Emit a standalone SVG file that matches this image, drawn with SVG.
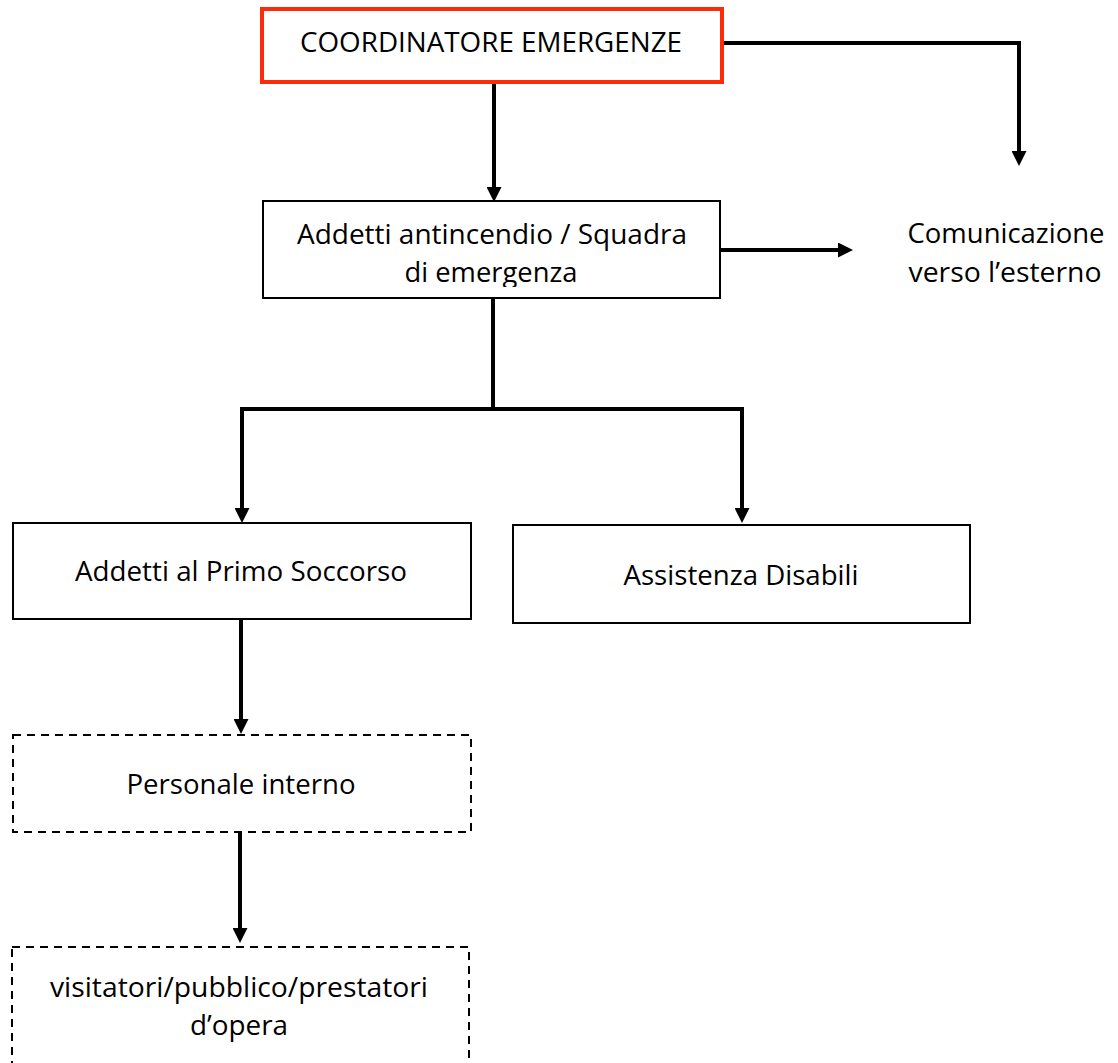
<svg xmlns="http://www.w3.org/2000/svg" width="1118" height="1063" viewBox="0 0 1118 1063">
<style>
  .box{fill:#fff;stroke:#000;stroke-width:2}
  .red{fill:#fff;stroke:#ff2a0a;stroke-width:4}
  .dash{fill:#fff;stroke:#000;stroke-width:2;stroke-dasharray:8 6}
  .t{font-family:"Open Sans","Noto Sans","Liberation Sans",sans-serif;font-size:28px;fill:#000;text-anchor:middle}
  .c{fill:none;stroke:#000;stroke-width:4;stroke-linejoin:miter;stroke-linecap:butt}
</style>
<defs>
  <marker id="ah" markerUnits="userSpaceOnUse" viewBox="0 0 15 15" refX="0" refY="7.5" markerWidth="15" markerHeight="15" orient="auto">
    <path d="M0,0 L15,7.5 L0,15 Z" fill="#000"/>
  </marker>
  <clipPath id="clip2"><rect x="263" y="201" width="457" height="86"/></clipPath>
</defs>
<rect width="1118" height="1063" fill="#fff"/>
<g id="connectors">
  <path class="c" d="M494 82 V187" marker-end="url(#ah)"/>
  <path class="c" d="M722 43 H1019 V151" marker-end="url(#ah)"/>
  <path class="c" d="M720 250 H838" marker-end="url(#ah)"/>
  <path class="c" d="M493 298 V409"/>
  <path class="c" d="M242 508 V409 H742 V508"/>
  <path class="c" d="M242 500 V508" marker-end="url(#ah)"/>
  <path class="c" d="M742 500 V508" marker-end="url(#ah)"/>
  <path class="c" d="M241 619 V719" marker-end="url(#ah)"/>
  <path class="c" d="M240 832 V928" marker-end="url(#ah)"/>
</g>
<g id="coordinatore">
  <rect class="red" x="262" y="9" width="460" height="73"/>
  <text class="t" x="491" y="52" textLength="382" lengthAdjust="spacingAndGlyphs">COORDINATORE EMERGENZE</text>
</g>
<g id="addetti-antincendio">
  <rect class="box" x="263" y="201" width="457" height="97"/>
  <g clip-path="url(#clip2)">
    <text class="t" x="492" y="244" textLength="390" lengthAdjust="spacingAndGlyphs">Addetti antincendio / Squadra</text>
    <text class="t" x="491" y="282" textLength="173" lengthAdjust="spacingAndGlyphs">di emergenza</text>
  </g>
</g>
<g id="comunicazione">
  <text class="t" x="1006" y="243" textLength="197" lengthAdjust="spacingAndGlyphs">Comunicazione</text>
  <text class="t" x="1005" y="282" textLength="193" lengthAdjust="spacingAndGlyphs">verso l’esterno</text>
</g>
<g id="primo-soccorso">
  <rect class="box" x="13" y="523" width="458" height="96"/>
  <text class="t" x="241" y="581" textLength="332" lengthAdjust="spacingAndGlyphs">Addetti al Primo Soccorso</text>
</g>
<g id="assistenza-disabili">
  <rect class="box" x="513" y="525" width="457" height="98"/>
  <text class="t" x="741" y="585" textLength="235" lengthAdjust="spacingAndGlyphs">Assistenza Disabili</text>
</g>
<g id="personale-interno">
  <rect class="dash" x="13" y="735" width="458" height="97"/>
  <text class="t" x="241" y="794" textLength="229" lengthAdjust="spacingAndGlyphs">Personale interno</text>
</g>
<g id="visitatori">
  <rect class="dash" x="12" y="947" width="457" height="150"/>
  <text class="t" x="239" y="997" textLength="378" lengthAdjust="spacingAndGlyphs">visitatori/pubblico/prestatori</text>
  <text class="t" x="239" y="1035" textLength="98" lengthAdjust="spacingAndGlyphs">d’opera</text>
</g>
</svg>
